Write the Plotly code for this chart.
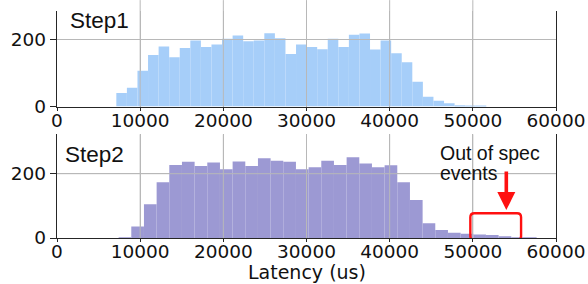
import plotly.graph_objects as go

# ---------------- data ----------------
step1_bin_start = 7134
step1_bin_width = 1271
step1_counts = [40, 56, 107, 154, 179, 147, 175, 197, 178, 185, 202, 212, 195, 197,
                219, 204, 157, 185, 178, 171, 202, 178, 214, 218, 170, 197, 159, 132,
                74, 29, 17, 10, 4, 2, 1]

step2_bin_start = 7410
step2_bin_width = 1523
step2_counts = [2, 36, 105, 173, 227, 237, 224, 235, 214, 238, 224, 248, 240, 237,
                214, 220, 240, 227, 251, 232, 220, 226, 173, 118, 46, 25, 16, 13,
                11, 9, 3, 2, 1]

x_ticks = [0, 10000, 20000, 30000, 40000, 50000, 60000]
y_ticks = [0, 200]
panel_labels = ["Step1", "Step2"]
x_title = "Latency (us)"
callout_lines = ["Out of spec", "events"]
spec_window = [49700, 55800]   # x-range of the out-of-spec box

step1_edges = [step1_bin_start + i * step1_bin_width for i in range(len(step1_counts))]
step2_edges = [step2_bin_start + i * step2_bin_width for i in range(len(step2_counts))]

# ---------------- styles ----------------
TICK_FONT = dict(family="DejaVu Sans", size=18.5, color="#111111")
LABEL_FONT = dict(family="Liberation Sans", size=22.5, color="#111111")
NOTE_FONT = dict(family="Liberation Sans", size=19.5, color="#111111")
GRID = "#b8b8b8"
AXIS = "#262626"

fig = go.Figure()
fig.add_trace(go.Bar(x=step1_edges, y=step1_counts, width=step1_bin_width, offset=0,
                     marker=dict(color="#a6cef9", line=dict(width=0)),
                     xaxis="x", yaxis="y", showlegend=False, hoverinfo="skip"))
fig.add_trace(go.Bar(x=step2_edges, y=step2_counts, width=step2_bin_width, offset=0,
                     marker=dict(color="#9c99d3", line=dict(width=0)),
                     xaxis="x2", yaxis="y2", showlegend=False, hoverinfo="skip"))

xcommon = dict(range=[0, 60000], tickvals=x_ticks, tickformat="d", showgrid=True,
               gridcolor=GRID, gridwidth=1, showline=True, linecolor=AXIS, linewidth=1.4,
               ticks="outside", ticklen=3, tickcolor=AXIS, tickfont=TICK_FONT, zeroline=False,
               ticklabelstandoff=-6)
ycommon = dict(tickvals=y_ticks, showgrid=True, gridcolor=GRID, gridwidth=1,
               showline=True, mirror=True, linecolor=AXIS, linewidth=1.4,
               ticks="outside", ticklen=6, tickcolor=AXIS, tickfont=TICK_FONT, zeroline=False)

fig.update_layout(
    width=588, height=284,
    margin=dict(l=57, r=32, t=0, b=46),
    paper_bgcolor="white", plot_bgcolor="white",
    barmode="overlay",
    xaxis=dict(domain=[0, 1], anchor="y", **xcommon),
    yaxis=dict(domain=[0.5525, 0.9517], range=[0, 283.6], anchor="x", **ycommon),
    xaxis2=dict(domain=[0, 1], anchor="y2", **xcommon),
    yaxis2=dict(domain=[0, 0.4357], range=[0, 322.5], anchor="x2", **ycommon),
)

# grid lines drawn above the bars (as in the reference)
shapes = []
for xr, yr, ytop in (("x", "y", 1.12), ("x2", "y2", 1.0)):
    for xv in x_ticks[1:-1]:
        shapes.append(dict(type="line", xref=xr, yref=yr + " domain", x0=xv, x1=xv,
                           y0=0, y1=ytop, line=dict(color=GRID, width=1), layer="above"))
    shapes.append(dict(type="line", xref=xr + " domain", yref=yr, x0=0, x1=1,
                       y0=y_ticks[1], y1=y_ticks[1], line=dict(color=GRID, width=1), layer="above"))

# rounded red box around the out-of-spec region
x0, x1 = spec_window
y0, y1 = -6.2, 76.8
rx, ry = 480, 12.4
path = (f"M {x0+rx},{y1} L {x1-rx},{y1} Q {x1},{y1} {x1},{y1-ry} "
        f"L {x1},{y0+ry} Q {x1},{y0} {x1-rx},{y0} L {x0+rx},{y0} "
        f"Q {x0},{y0} {x0},{y0+ry} L {x0},{y1-ry} Q {x0},{y1} {x0+rx},{y1} Z")
shapes.append(dict(type="path", xref="x2", yref="y2", path=path,
                   line=dict(color="#ff1010", width=2.4), layer="above"))
fig.update_layout(shapes=shapes)

annotations = [
    dict(text=panel_labels[0], xref="x domain", yref="y domain", x=0.022, y=0.91,
         xanchor="left", yanchor="middle", showarrow=False, font=LABEL_FONT),
    dict(text=panel_labels[1], xref="x2 domain", yref="y2 domain", x=0.012, y=0.81,
         xanchor="left", yanchor="middle", showarrow=False, font=LABEL_FONT),
    dict(text=x_title, xref="x2 domain", yref="paper", x=0.5, y=-0.143,
         xanchor="center", yanchor="middle", showarrow=False,
         font=dict(family="DejaVu Sans", size=19, color="#111111")),
    dict(text=callout_lines[0], xref="x2", yref="y2", x=45815, y=265,
         xanchor="left", yanchor="middle", showarrow=False, font=NOTE_FONT),
    dict(text=callout_lines[1], xref="x2", yref="y2", x=45815, y=201,
         xanchor="left", yanchor="middle", showarrow=False, font=NOTE_FONT),
    dict(text="", xref="x2", yref="y2", x=54025, y=87, ax=0, ay=-40,
         showarrow=True, arrowhead=2, arrowsize=1, arrowwidth=3.6, arrowcolor="#ff1010"),
]
fig.update_layout(annotations=annotations)

fig.write_html("out.html", config={"displayModeBar": False},
               post_script="document.body.style.margin='0';document.body.style.overflow='hidden';")
